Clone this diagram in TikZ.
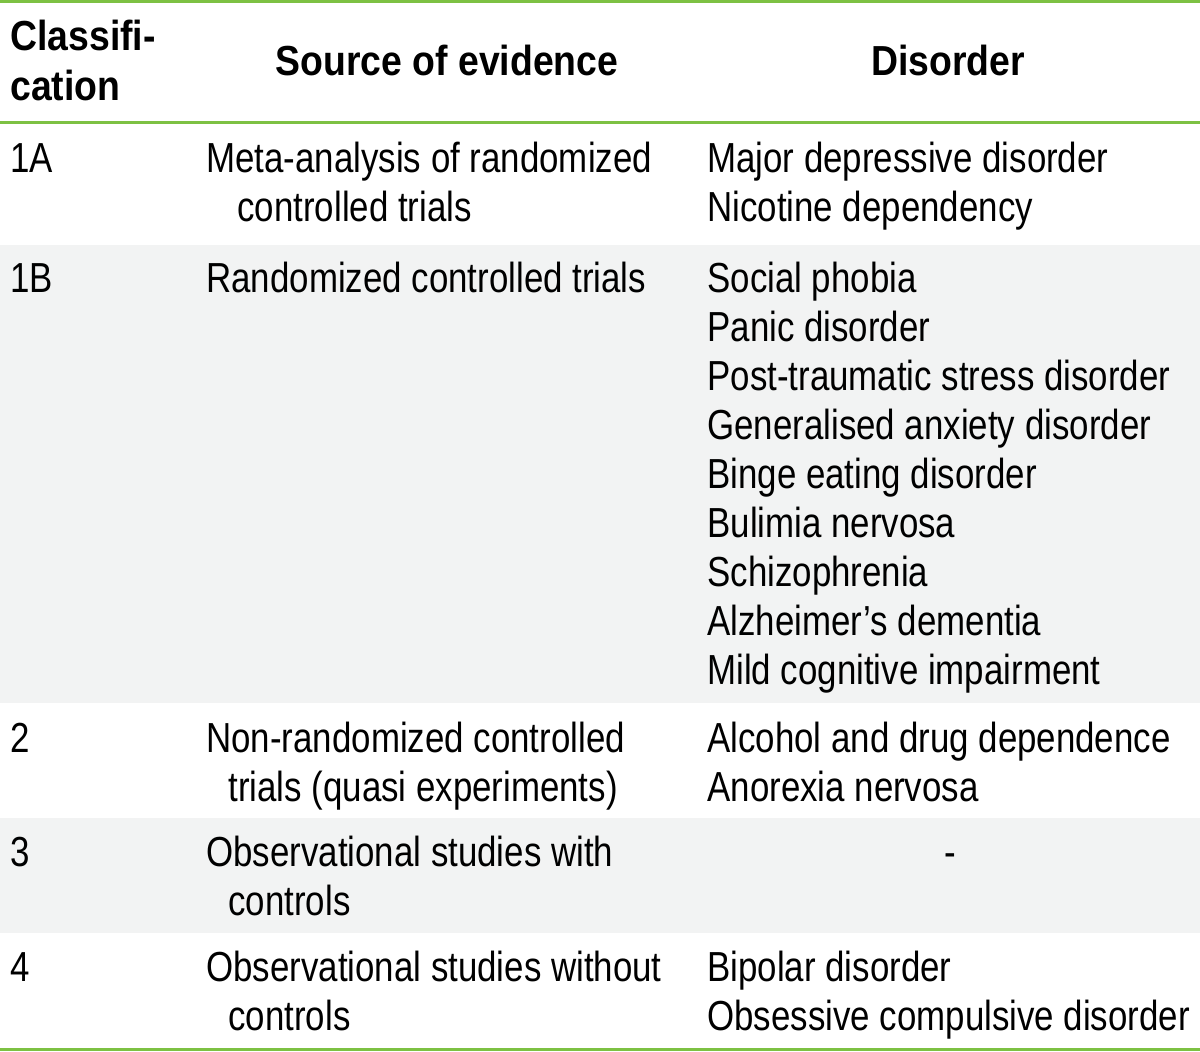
\documentclass[tikz,border=0pt]{standalone}
\usepackage{fontspec}
\setmainfont{Liberation Sans}[FakeStretch=0.83]
\newfontfamily\headfont{Liberation Sans}[FakeStretch=0.89]
\definecolor{tabGreen}{RGB}{125,193,67}
\definecolor{tabGray}{RGB}{242,243,243}
\tikzset{
  cell/.style={anchor=base west, inner sep=0pt, font=\fontsize{21}{24.5}\selectfont},
  headcell/.style={cell, font=\fontsize{21}{24.5}\selectfont\headfont\bfseries},
  headmid/.style={headcell, anchor=base},
  rule/.style={draw=tabGreen, line width=1.5pt},
  band/.style={fill=tabGray}
}
\begin{document}
\begin{tikzpicture}[x=0.5pt, y=-0.5pt]
    \useasboundingbox (0,0) rectangle (1200,1051);
    % shaded rows
    \fill[band] (0,245) rectangle (1200,703);
    \fill[band] (0,818) rectangle (1200,933);
    % rules
    \draw[rule] (0,1.5) -- (1200,1.5);
    \draw[rule] (0,122.3) -- (1200,122.3);
    \draw[rule] (0,1049.5) -- (1200,1049.5);

    % header
    \node[headcell] (hclass1) at (10,50) {Classifi-};
    \node[headcell] (hclass2) at (10,100) {cation};
    \node[headmid] (hsource) at (447,75) {Source of evidence};
    \node[headmid] (hdisorder) at (948,75) {Disorder};

    % 1A
    \node[cell] (c1a) at (10,172) {1A};
    \node[cell] (s1a1) at (206,172) {Meta-analysis of randomized};
    \node[cell] (s1a2) at (237,221) {controlled trials};
    \node[cell] (d1a1) at (707,172) {Major depressive disorder};
    \node[cell] (d1a2) at (707,221) {Nicotine dependency};

    % 1B
    \node[cell] (c1b) at (10,292) {1B};
    \node[cell] (s1b1) at (206,292) {Randomized controlled trials};
    \foreach \txt [count=\i from 0] in {Social phobia, Panic disorder,
        Post-traumatic stress disorder, Generalised anxiety disorder,
        Binge eating disorder, Bulimia nervosa, Schizophrenia,
        Alzheimer’s dementia, Mild cognitive impairment}
      \node[cell] (d1b\i) at (707,292+49.1*\i) {\txt};

    % 2
    \node[cell] (c2) at (10,752) {2};
    \node[cell] (s21) at (206,752) {Non-randomized controlled};
    \node[cell] (s22) at (228,801) {trials (quasi experiments)};
    \node[cell] (d21) at (707,752) {Alcohol and drug dependence};
    \node[cell] (d22) at (707,801) {Anorexia nervosa};

    % 3
    \node[cell] (c3) at (10,866) {3};
    \node[cell] (s31) at (206,866) {Observational studies with};
    \node[cell] (s32) at (228,915) {controls};
    \node[cell, anchor=base] (d31) at (950,866) {-};

    % 4
    \node[cell] (c4) at (10,981) {4};
    \node[cell] (s41) at (206,981) {Observational studies without};
    \node[cell] (s42) at (228,1030) {controls};
    \node[cell] (d41) at (707,981) {Bipolar disorder};
    \node[cell] (d42) at (707,1030) {Obsessive compulsive disorder};
\end{tikzpicture}
\end{document}
